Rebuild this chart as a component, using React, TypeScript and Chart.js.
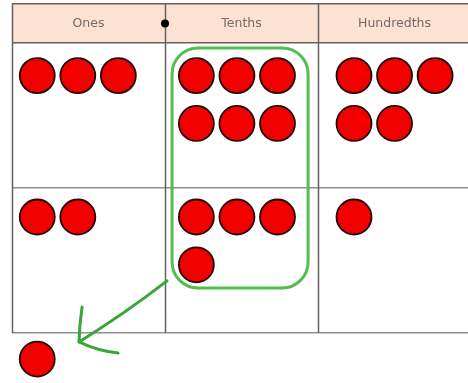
import React, { useEffect, useRef } from "react";
import { Chart, registerables } from "chart.js";

Chart.register(...registerables);

// ---- data ----
const columns: string[] = ["Ones", "Tenths", "Hundredths"];
const row1Counts: number[] = [3, 6, 5];
const row2Counts: number[] = [2, 4, 1];
const regroupedCounts: number[] = [1]; // counter carried into the ones column below

// ---- layout constants (in column / row units) ----
const HEADER = 0.269;
const X_MAX = 2.98;
const Y_MAX = 2.345;
const TABLE_BOTTOM = 2;
const colStart = [0.165, 0.205, 0.235];
const rowStart = [0.225, 0.2, 0.18];
const STEP_X = 0.265;
const STEP_Y = 0.33;

function counters(counts: number[], row: number) {
  const pts: { x: number; y: number }[] = [];
  counts.forEach((n, c) => {
    for (let i = 0; i < n; i++) {
      pts.push({
        x: c + colStart[c] + (i % 3) * STEP_X,
        y: row + rowStart[row] + Math.floor(i / 3) * STEP_Y,
      });
    }
  });
  return pts;
}

const tablePlugin = {
  id: "placeValueTable",
  beforeDraw(chart: any) {
    const { ctx, chartArea, scales } = chart;
    ctx.save();
    ctx.fillStyle = "#ffffff";
    ctx.fillRect(0, 0, chart.width, chart.height);
    ctx.fillStyle = "#fbe2d3";
    const top = scales.y.getPixelForValue(-HEADER);
    const bot = scales.y.getPixelForValue(0);
    ctx.fillRect(chartArea.left, top, chartArea.right - chartArea.left, bot - top);
    ctx.restore();
  },
  beforeDatasetsDraw(chart: any) {
    const { ctx, scales } = chart;
    const x = scales.x;
    const y = scales.y;
    ctx.save();
    ctx.strokeStyle = "#666060";
    ctx.lineWidth = 1.5;
    const t = y.getPixelForValue(-HEADER);
    const b = y.getPixelForValue(TABLE_BOTTOM);
    columns.forEach((_, i) => {
      const px = Math.round(x.getPixelForValue(i)) + 0.5;
      ctx.beginPath();
      ctx.moveTo(px, t);
      ctx.lineTo(px, b);
      ctx.stroke();
    });
    ctx.restore();
  },
  afterDatasetsDraw(chart: any) {
    const { ctx, scales } = chart;
    const x = scales.x;
    const y = scales.y;
    ctx.save();
    // header labels
    ctx.fillStyle = "#766a66";
    ctx.font = "12.5px 'DejaVu Sans', sans-serif";
    ctx.textAlign = "center";
    ctx.textBaseline = "middle";
    const hy = y.getPixelForValue(-HEADER / 2);
    columns.forEach((label, i) => {
      ctx.fillText(label, x.getPixelForValue(i + 0.5), hy);
    });
    // green grouping box around ten tenths
    const bx0 = x.getPixelForValue(1.046);
    const bx1 = x.getPixelForValue(1.935);
    const by0 = y.getPixelForValue(0.034);
    const by1 = y.getPixelForValue(1.69);
    ctx.strokeStyle = "#4fbf4f";
    ctx.lineWidth = 3;
    ctx.beginPath();
    ctx.roundRect(bx0, by0, bx1 - bx0, by1 - by0, 26);
    ctx.stroke();
    // arrow
    ctx.strokeStyle = "#38a638";
    ctx.lineWidth = 3;
    ctx.lineCap = "round";
    ctx.lineJoin = "round";
    const sx = x.getPixelForValue(1.013), sy = y.getPixelForValue(1.641);
    const tx = x.getPixelForValue(0.438), ty = y.getPixelForValue(2.062);
    ctx.beginPath();
    ctx.moveTo(sx, sy);
    ctx.quadraticCurveTo((sx + tx) / 2 + 2, (sy + ty) / 2 + 2, tx, ty);
    ctx.stroke();
    ctx.beginPath();
    ctx.moveTo(x.getPixelForValue(0.458), y.getPixelForValue(1.821));
    ctx.quadraticCurveTo(x.getPixelForValue(0.44), y.getPixelForValue(1.95), tx, ty);
    ctx.quadraticCurveTo(x.getPixelForValue(0.56), y.getPixelForValue(2.125), x.getPixelForValue(0.693), y.getPixelForValue(2.138));
    ctx.stroke();
    ctx.restore();
  },
};

export default function App() {
  const ref = useRef<HTMLCanvasElement | null>(null);
  useEffect(() => {
    if (!ref.current) return;
    const pointStyle = {
      pointRadius: 17.5,
      pointHoverRadius: 17.5,
      pointBackgroundColor: "#f20000",
      pointBorderColor: "#240808",
      pointBorderWidth: 1.8,
      showLine: false,
      clip: false as any,
    };
    const chart = new Chart(ref.current, {
      type: "scatter",
      data: {
        datasets: [
          { label: "row 1", data: counters(row1Counts, 0), ...pointStyle },
          { label: "row 2", data: counters(row2Counts, 1), ...pointStyle },
          { label: "regrouped", data: counters(regroupedCounts, 2), ...pointStyle },
          {
            label: "decimal point",
            data: [{ x: 1, y: -HEADER / 2 }],
            pointRadius: 4,
            pointBackgroundColor: "#000000",
            pointBorderColor: "#000000",
            pointBorderWidth: 0,
            clip: false as any,
          },
        ],
      },
      options: {
        responsive: false,
        animation: false,
        events: [],
        layout: { autoPadding: false, padding: { left: 12, top: 4, right: 0, bottom: 0 } },
        plugins: { legend: { display: false }, tooltip: { enabled: false } },
        scales: {
          x: {
            type: "linear",
            display: false,
            min: 0,
            max: X_MAX,
          },
          y: {
            type: "linear",
            reverse: true,
            min: -HEADER,
            max: Y_MAX,
            afterBuildTicks: (s: any) => {
              s.ticks = [-HEADER, 0, 1, TABLE_BOTTOM].map((v) => ({ value: v }));
            },
            ticks: { display: false },
            grid: {
              color: (c: any) => (c.index < 2 ? "#6a5e58" : "#8e8e8e"),
              lineWidth: 1.5,
              drawTicks: false,
            },
            border: { display: false },
          },
        },
      },
      plugins: [tablePlugin],
    });
    return () => chart.destroy();
  }, []);
  return (
    <div style={{ position: "fixed", left: 0, top: 0, width: 468, height: 383, background: "#fff" }}>
      <canvas ref={ref} width={468} height={383} style={{ display: "block" }} />
    </div>
  );
}
